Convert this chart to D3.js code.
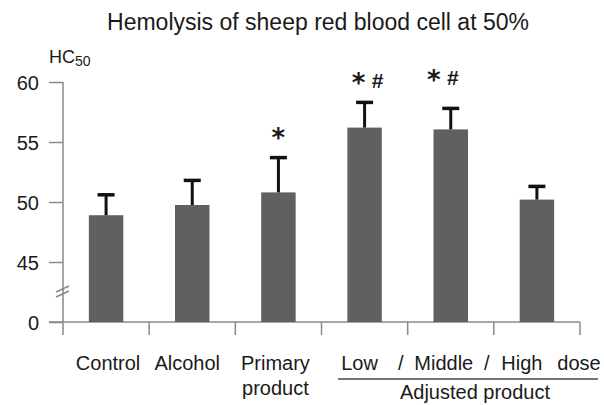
<!DOCTYPE html>
<html lang="en">
<head>
    <meta charset="UTF-8">
    <title>Hemolysis HC50</title>
    <script src="https://cdn.jsdelivr.net/npm/d3@7"></script>
    <style>
        body { margin: 0; background: #fff; }
        text { font-family: "Liberation Sans", Arial, sans-serif; fill: #1a1a1a; }
        .axis line, .axis path { stroke: #8a8a8a; stroke-width: 1.5; }
    </style>
</head>
<body>
<script>
    const width = 604;
    const height = 405;

    // data
    const groups = ["Control", "Alcohol", "Primary product", "Low", "Middle", "High"];
    const means = [48.9, 49.75, 50.8, 56.2, 56.05, 50.2];
    const errors = [1.7, 2.05, 2.9, 2.1, 1.75, 1.1];
    const stars = ["", "", "*", "*", "*", ""];
    const hashes = ["", "", "", "#", "#", ""];
    const yTicks = [0, 45, 50, 55, 60];

    const svg = d3.select("body").append("svg")
            .attr("width", width).attr("height", height);

    const x = d3.scaleBand()
            .domain(groups)
            .range([63, 580])
            .paddingInner(0.6)
            .paddingOuter(0.3);

    // broken axis: 0 sits just below 45
    const y = d3.scaleLinear()
            .domain([0, 45, 60])
            .range([322, 262, 82]);

    // title
    svg.append("text")
        .attr("x", 318).attr("y", 30)
        .attr("text-anchor", "middle")
        .style("font-size", "23px")
        .text("Hemolysis of sheep red blood cell at 50%");

    // y label HC50
    const hc = svg.append("text")
        .attr("x", 49).attr("y", 63)
        .style("font-size", "18px");
    hc.append("tspan").text("HC");
    hc.append("tspan").attr("dy", 3).style("font-size", "14px").text("50");

    // y axis
    const yAxis = svg.append("g").attr("class", "axis")
        .attr("transform", "translate(63,0)")
        .call(d3.axisLeft(y).tickValues(yTicks).tickSize(14).tickPadding(10).tickSizeOuter(0));
    yAxis.select(".domain").remove();
    yAxis.selectAll("text").style("font-size", "20px").attr("dy", "0.35em");
    yAxis.append("line")
        .attr("x1", 0).attr("x2", 0)
        .attr("y1", y(60)).attr("y2", 335);

    // break marks
    svg.append("g").attr("class", "axis")
        .selectAll("line")
        .data([0, 5])
        .join("line")
        .attr("x1", 56).attr("x2", 69)
        .attr("y1", d => 292 + d).attr("y2", d => 286 + d);

    // x baseline and ticks at band edges
    const edges = groups.map(g => x(g) - x.step() * x.paddingInner() / 2);
    edges.push(x.range()[1]);
    const xg = svg.append("g").attr("class", "axis");
    xg.append("line")
        .attr("x1", 49).attr("x2", 580)
        .attr("y1", y(0)).attr("y2", y(0));
    xg.selectAll("line.tick")
        .data(edges.slice(1))
        .join("line")
        .attr("class", "tick")
        .attr("x1", d => d).attr("x2", d => d)
        .attr("y1", y(0)).attr("y2", 335);

    // bars
    svg.selectAll("rect.bar")
        .data(groups)
        .join("rect")
        .attr("class", "bar")
        .attr("x", d => x(d))
        .attr("width", x.bandwidth())
        .attr("y", (d, i) => y(means[i]))
        .attr("height", (d, i) => y(0) - y(means[i]))
        .attr("fill", "#606060");

    // error bars
    const eb = svg.append("g").attr("stroke", "#111");
    groups.forEach((g, i) => {
        const cx = x(g) + x.bandwidth() / 2;
        eb.append("line")
            .attr("x1", cx).attr("x2", cx)
            .attr("y1", y(means[i])).attr("y2", y(means[i] + errors[i]))
            .attr("stroke-width", 3);
        eb.append("line")
            .attr("x1", cx - 8.5).attr("x2", cx + 8.5)
            .attr("y1", y(means[i] + errors[i])).attr("y2", y(means[i] + errors[i]))
            .attr("stroke-width", 3.5);
    });

    // significance marks
    const starDx = [0, 0, 0, -6, -17, 0];
    const hashDx = [0, 0, 0, 13, 2, 0];
    const markLift = [0, 0, 23, 22, 31, 0];
    groups.forEach((g, i) => {
        const cx = x(g) + x.bandwidth() / 2;
        const cy = y(means[i] + errors[i]) - markLift[i];
        if (stars[i]) {
            svg.append("text")
                .attr("x", cx + starDx[i]).attr("y", cy + 12)
                .attr("text-anchor", "middle")
                .style("font-family", "DejaVu Sans")
                .style("font-weight", "bold")
                .style("font-size", "26px")
                .text(stars[i]);
        }
        if (hashes[i]) {
            svg.append("text")
                .attr("x", cx + hashDx[i]).attr("y", cy + 7.5)
                .attr("text-anchor", "middle")
                .style("font-weight", "bold")
                .style("font-size", "21px")
                .text(hashes[i]);
        }
    });

    // category labels
    const lab = svg.append("g").style("font-size", "20px").attr("text-anchor", "middle");
    const cx0 = g => x(g) + x.bandwidth() / 2;
    lab.append("text").attr("x", cx0("Control") + 2).attr("y", 370).text("Control");
    lab.append("text").attr("x", cx0("Alcohol") - 5).attr("y", 370).text("Alcohol");
    lab.append("text").attr("x", cx0("Primary product") - 3).attr("y", 370).text("Primary");
    lab.append("text").attr("x", cx0("Primary product") - 3).attr("y", 395).text("product");
    lab.append("text").attr("x", cx0("Low") - 5).attr("y", 370).text("Low");
    lab.append("text").attr("x", edges[4] - 7).attr("y", 370).text("/");
    lab.append("text").attr("x", cx0("Middle") - 7).attr("y", 370).text("Middle");
    lab.append("text").attr("x", edges[5] - 7).attr("y", 370).text("/");
    lab.append("text").attr("x", cx0("High") - 15).attr("y", 370).text("High");
    lab.append("text").attr("x", edges[6] - 1).attr("y", 370).text("dose");
    svg.append("line")
        .attr("x1", 338).attr("x2", 598)
        .attr("y1", 379).attr("y2", 379)
        .attr("stroke", "#444").attr("stroke-width", 1.5);
    lab.append("text").attr("x", 475).attr("y", 399).text("Adjusted product");
</script>
</body>
</html>
